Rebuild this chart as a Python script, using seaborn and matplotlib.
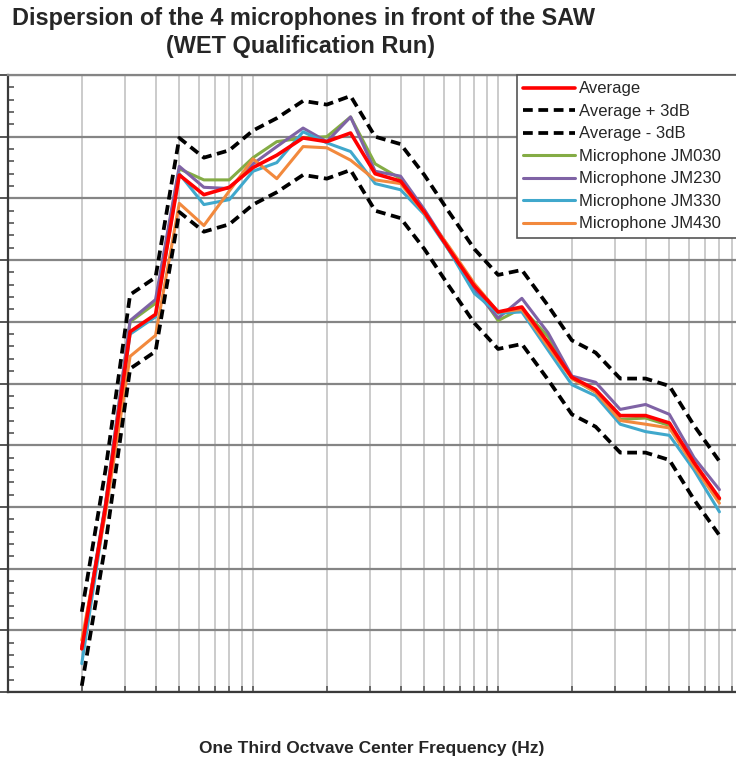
import numpy as np
import pandas as pd
import matplotlib
matplotlib.use("Agg")
import matplotlib.pyplot as plt
import seaborn as sns
from matplotlib.ticker import LogLocator, MultipleLocator, NullFormatter

# One-third octave band centre frequencies (Hz)
freq_hz = [20, 25, 31.5, 40, 50, 63, 80, 100, 125, 160, 200, 250, 315, 400,
           500, 630, 800, 1000, 1250, 1600, 2000, 2500, 3150, 4000, 5000,
           6300, 8000]

# Band levels (dB)
average = [53.5, 65.0, 79.2, 80.6, 91.9, 90.3, 90.9, 92.5, 93.5, 94.9, 94.6,
           95.3, 92.0, 91.4, 88.9, 85.9, 82.9, 80.8, 81.2, 78.3, 75.5, 74.5,
           72.4, 72.4, 71.8, 68.6, 65.7]
jm030 = [53.5, 65.2, 80.0, 81.5, 92.4, 91.5, 91.5, 93.3, 94.6, 94.9, 95.0,
         96.6, 92.8, 91.6, 88.9, 85.8, 82.9, 80.1, 81.1, 78.8, 75.4, 74.3,
         72.1, 72.2, 71.6, 68.5, 65.6]
jm230 = [53.7, 65.3, 80.1, 81.8, 92.6, 90.9, 90.8, 92.8, 94.2, 95.7, 94.6,
         96.6, 92.2, 91.8, 89.1, 86.0, 82.6, 80.3, 81.9, 79.1, 75.6, 75.1,
         72.9, 73.3, 72.5, 69.0, 66.4]
jm330 = [52.3, 64.8, 79.0, 80.4, 92.0, 89.5, 89.9, 92.2, 92.9, 95.4, 94.5,
         93.8, 91.2, 90.7, 88.7, 85.8, 82.3, 80.7, 80.8, 77.7, 74.9, 74.0,
         71.7, 71.1, 70.8, 68.0, 64.6]
jm430 = [54.2, 64.5, 77.2, 78.9, 89.6, 87.8, 90.6, 93.2, 91.6, 94.2, 94.1,
         93.1, 91.5, 91.2, 88.8, 86.1, 83.1, 80.8, 81.0, 78.0, 75.4, 74.3,
         72.0, 71.7, 71.4, 68.3, 65.3]

# Tolerance band around the average
band_db = 3

df = pd.DataFrame({
    "freq": freq_hz,
    "Average": average,
    "Average + 3dB": np.array(average) + band_db,
    "Average - 3dB": np.array(average) - band_db,
    "Microphone JM030": jm030,
    "Microphone JM230": jm230,
    "Microphone JM330": jm330,
    "Microphone JM430": jm430,
})

styles = {
    "Average":          dict(color="#FF0000", lw=2.6, zorder=3.6, dash=None),
    "Average + 3dB":    dict(color="#000000", lw=2.7, zorder=3.8, dash=(2.6, 1.5)),
    "Average - 3dB":    dict(color="#000000", lw=2.7, zorder=3.8, dash=(2.6, 1.5)),
    "Microphone JM030": dict(color="#84AC45", lw=2.2, zorder=3.0, dash=None),
    "Microphone JM230": dict(color="#7F63A5", lw=2.2, zorder=3.1, dash=None),
    "Microphone JM330": dict(color="#40A8CC", lw=2.2, zorder=3.2, dash=None),
    "Microphone JM430": dict(color="#F2893D", lw=2.2, zorder=3.3, dash=None),
}

sns.set_style("white")
plt.rcParams["font.family"] = ["Liberation Sans", "DejaVu Sans"]

fig = plt.figure(figsize=(7.36, 7.64), dpi=100)
ax = fig.add_axes([8 / 736, 72 / 764, 728 / 736, 617 / 764])

for name, st in styles.items():
    sns.lineplot(data=df, x="freq", y=name, ax=ax, color=st["color"],
                 linewidth=st["lw"], zorder=st["zorder"], label=name)
    if st["dash"] is not None:
        ax.lines[-1].set_dashes(st["dash"])

ax.set_xscale("log")
ax.set_xlim(10, 9350)
ax.set_ylim(50, 100)

ax.xaxis.set_major_locator(LogLocator(base=10))
ax.xaxis.set_minor_locator(LogLocator(base=10, subs=range(2, 10)))
ax.xaxis.set_major_formatter(NullFormatter())
ax.xaxis.set_minor_formatter(NullFormatter())
ax.yaxis.set_major_locator(MultipleLocator(5))
ax.yaxis.set_minor_locator(MultipleLocator(1))
ax.yaxis.set_major_formatter(NullFormatter())

ax.grid(axis="x", which="both", color="#cbcbcb", linewidth=1.4, zorder=0)
ax.grid(axis="y", which="major", color="#858585", linewidth=1.6, zorder=0)
ax.set_axisbelow(True)

ax.tick_params(axis="x", which="both", direction="in", length=4,
               width=1.2, color="#555555", bottom=True)
ax.tick_params(axis="y", which="major", direction="out", length=7,
               width=1.4, color="#555555", left=True)
ax.tick_params(axis="y", which="minor", direction="in", length=4,
               width=1.2, color="#555555", left=True)

for side in ("left", "bottom"):
    ax.spines[side].set_color("#3a3a3a")
    ax.spines[side].set_linewidth(1.6)
ax.spines["top"].set_color("#858585")
ax.spines["top"].set_linewidth(1.6)
ax.spines["right"].set_visible(False)

ax.set_xlabel("")
ax.set_ylabel("")

# Legend box runs past the right edge of the figure
leg_x0 = (517 - 8) / 728
leg = ax.legend(loc="upper left", bbox_to_anchor=(leg_x0, 0.0, 0.33, 1.0),
                mode="expand", borderaxespad=0, frameon=True, fancybox=False,
                edgecolor="#555555", framealpha=1, fontsize=12,
                handlelength=3.1, handletextpad=0.25, labelspacing=0.45,
                borderpad=0.38)
leg.get_frame().set_linewidth(1.2)
for line, name in zip(leg.get_lines(), styles):
    if styles[name]["dash"] is not None:
        line.set_dashes(styles[name]["dash"])

fig.text(304 / 736, 1 - 18 / 764,
         "Dispersion of the 4 microphones in front of the SAW",
         ha="center", va="center", fontsize=16.9, fontweight="bold")
fig.text(300 / 736, 1 - 47 / 764, "(WET Qualification Run)",
         ha="center", va="center", fontsize=16.9, fontweight="bold")
fig.text(372 / 736, 1 - 749 / 764, "One Third Octvave Center Frequency (Hz)",
         ha="center", va="center", fontsize=12.5, fontweight="bold")

fig.savefig("out.png", dpi=100)
